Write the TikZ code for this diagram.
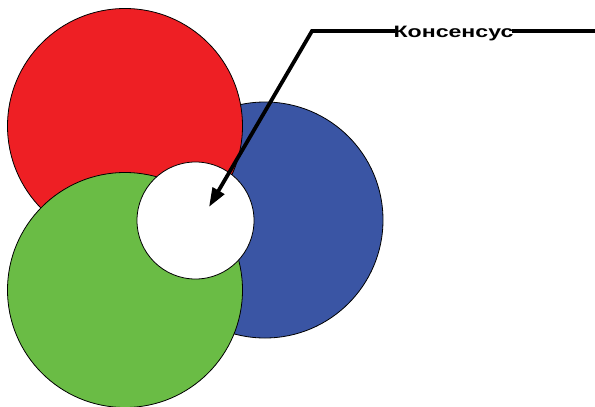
\documentclass[tikz,border=0pt]{standalone}
\usepackage{fontspec}
\setmainfont{Liberation Sans}
\usetikzlibrary{arrows.meta}
\definecolor{cred}{HTML}{EE1F24}
\definecolor{cblue}{HTML}{3A55A4}
\definecolor{cgreen}{HTML}{6ABC45}
\begin{document}
\begin{tikzpicture}[x=1pt,y=-1pt,
  disc/.style={circle,draw=black,line width=0.8pt,inner sep=0pt,minimum size=#1},
  lead/.style={line width=3.8pt,black}]
\useasboundingbox (0,0) rectangle (595,407);
\node[disc=236pt,fill=cblue] (blue) at (265,220) {};
\node[disc=235pt,fill=cred] (red) at (125,126) {};
\node[disc=235pt,fill=cgreen] (green) at (125,290) {};
\node[disc=117pt,fill=white] (cons) at (195.5,220.5) {};
\node[font=\bfseries\fontsize{16.5}{19}\selectfont,inner xsep=-2pt,inner ysep=0pt,anchor=base] (lbl) at (453.5,37) {\scalebox{1.4}[1]{Консенсус}};
\coordinate (corner) at (312,31);
\coordinate (tip) at (209,207);
\coordinate (rend) at (595,31);
\draw[lead,-{Triangle[length=19pt,width=13pt]}] (corner -| lbl.west) -- (corner) -- (tip);
\draw[lead] (corner -| lbl.east) -- (rend);
\end{tikzpicture}
\end{document}
